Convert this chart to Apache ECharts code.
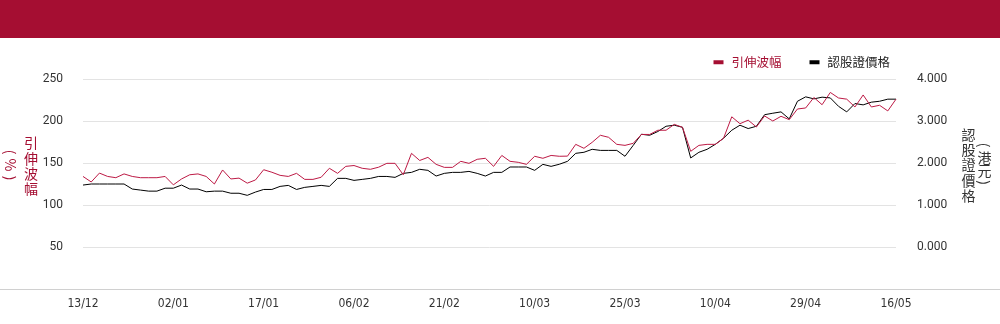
<!DOCTYPE html>
<html>
<head>
<meta charset="utf-8">
<script src="https://cdn.jsdelivr.net/npm/echarts@6/dist/echarts.min.js"></script>
<style>
html,body{margin:0;padding:0;background:#fff;}
#chart{width:1000px;height:324px;}
</style>
</head>
<body>
<div id="chart"></div>
<script>
var dates = ["13/12","16/12","17/12","18/12","19/12","20/12","23/12","24/12","27/12","30/12",
"31/12","02/01","03/01","06/01","07/01","08/01","09/01","10/01","13/01","14/01",
"15/01","16/01","17/01","20/01","21/01","22/01","23/01","24/01","27/01","28/01",
"03/02","04/02","05/02","06/02","07/02","10/02","11/02","12/02","13/02","14/02",
"17/02","18/02","19/02","20/02","21/02","24/02","25/02","26/02","27/02","28/02",
"03/03","04/03","05/03","06/03","07/03","10/03","11/03","12/03","13/03","14/03",
"17/03","18/03","19/03","20/03","21/03","24/03","25/03","26/03","27/03","28/03",
"31/03","01/04","02/04","03/04","07/04","08/04","09/04","10/04","11/04","14/04",
"15/04","16/04","17/04","22/04","23/04","24/04","25/04","28/04","29/04","30/04",
"02/05","06/05","07/05","08/05","09/05","12/05","13/05","14/05","15/05","16/05"];

var volatility = [134,127.4,138,134,132.5,137,134,132.5,132.5,132.5,
134,124,131,136,137,134,125,141.7,131,132,
126,129.8,142,139,135.3,134,137.7,130.5,130.5,133,
143.7,137.7,146,147,143.7,142.5,145,149.6,149.6,136,
161.5,153,156.7,148.4,144.8,144.8,152,149.6,154.4,155.6,
146,159,152,150.8,148.4,158,155.6,159,158,158.2,
172.2,167.5,174.6,183,180.6,172.2,171,173.4,184,184,
189,189,196,192.5,163.9,171,172.2,172.2,179.4,205,
196.8,201,192.9,206,200,205.6,201.6,214.3,215.5,228,
219.4,234,227.4,226,216.7,231,216.7,218.7,212,226];

var price = [1.475,1.50,1.50,1.50,1.50,1.50,1.38,1.355,1.33,1.33,
1.40,1.40,1.475,1.38,1.38,1.315,1.33,1.33,1.28,1.28,
1.23,1.308,1.37,1.37,1.443,1.467,1.37,1.42,1.443,1.467,
1.443,1.634,1.634,1.586,1.61,1.634,1.68,1.68,1.658,1.753,
1.777,1.85,1.825,1.69,1.753,1.777,1.777,1.80,1.753,1.69,
1.777,1.777,1.905,1.905,1.905,1.825,1.968,1.92,1.97,2.04,
2.23,2.255,2.326,2.30,2.30,2.30,2.16,2.42,2.684,2.66,
2.75,2.875,2.90,2.85,2.12,2.255,2.326,2.445,2.59,2.78,
2.90,2.82,2.875,3.15,3.185,3.217,3.05,3.47,3.575,3.527,
3.567,3.55,3.35,3.217,3.416,3.384,3.448,3.47,3.52,3.52];

var seriesNames = ["引伸波幅","認股證價格"];
var leftTicks = {min:0, max:250, interval:50};
var rightTicks = {min:-1, max:4, interval:1};

var RED = '#a50e32';
var LINE_RED = '#bd1a45';
var CJK = '"Noto Sans CJK TC","Noto Sans CJK SC",sans-serif';

var chart = echarts.init(document.getElementById('chart'), null, {renderer:'canvas'});

function txt(x, y, t, color, rot) {
  return {
    type:'text', x:x, y:y, rotation: rot || 0, silent:true,
    style:{text:t, fill:color, fontSize:14, fontFamily:CJK, align:'center', verticalAlign:'middle', lineHeight:15.3}
  };
}

var option = {
  animation:false,
  backgroundColor:'#fff',
  grid:{left:83, right:104, top:79, bottom:35},
  legend:{
    right:105, top:51, icon:'rect', itemWidth:10, itemHeight:4, itemGap:28,
    textStyle:{fontSize:12.5, fontFamily:CJK, padding:[0,0,0,3]},
    data:[
      {name:seriesNames[0], textStyle:{color:RED}, itemStyle:{color:RED}},
      {name:seriesNames[1], textStyle:{color:'#222'}, itemStyle:{color:'#000'}}
    ]
  },
  xAxis:{
    type:'category', boundaryGap:false, data:dates,
    axisLine:{show:true, lineStyle:{color:'#d0d0d0'}},
    axisTick:{show:false},
    axisLabel:{interval:10, color:'#333', fontSize:12, fontFamily:'"DejaVu Sans Condensed","DejaVu Sans",sans-serif', margin:9}
  },
  yAxis:[
    {
      type:'value', min:leftTicks.min, max:leftTicks.max, interval:leftTicks.interval,
      axisLine:{show:false}, axisTick:{show:false},
      splitLine:{lineStyle:{color:'#e3e3e3'}},
      axisLabel:{color:'#333', fontSize:12, fontFamily:'Roboto,sans-serif', margin:20,
        formatter:function(v){return v===0?'':String(v);}}
    },
    {
      type:'value', min:rightTicks.min, max:rightTicks.max, interval:rightTicks.interval,
      axisLine:{show:false}, axisTick:{show:false}, splitLine:{show:false},
      axisLabel:{color:'#333', fontSize:12, fontFamily:'Roboto,sans-serif', margin:21,
        formatter:function(v){return v<0?'':v.toFixed(3);}}
    }
  ],
  series:[
    {name:seriesNames[0], type:'line', yAxisIndex:0, data:volatility, symbol:'none',
     lineStyle:{color:LINE_RED, width:1}, itemStyle:{color:RED}, z:3},
    {name:seriesNames[1], type:'line', yAxisIndex:1, data:price, symbol:'none',
     lineStyle:{color:'#000', width:1}, itemStyle:{color:'#000'}, z:2}
  ],
  graphic:[
    {type:'rect', shape:{x:0,y:0,width:1000,height:38}, style:{fill:RED}, silent:true},
    {type:'line', shape:{x1:0,y1:289.5,x2:1000,y2:289.5}, style:{stroke:'#d0d0d0', lineWidth:1}, silent:true},
    txt(31, 166, '引\n伸\n波\n幅', RED),
    txt(10.5, 152, '(', RED, -Math.PI/2),
    txt(10.5, 165, '%', RED, -Math.PI/2),
    txt(10.5, 178, ')', RED, -Math.PI/2),
    txt(968.5, 165, '認\n股\n證\n價\n格', '#333'),
    txt(984.5, 145, '(', '#333', -Math.PI/2),
    txt(984.5, 157.5, '港', '#333'),
    txt(984.5, 171, '元', '#333'),
    txt(984.5, 182.5, ')', '#333', -Math.PI/2)
  ]
};
chart.setOption(option);
</script>
</body>
</html>
